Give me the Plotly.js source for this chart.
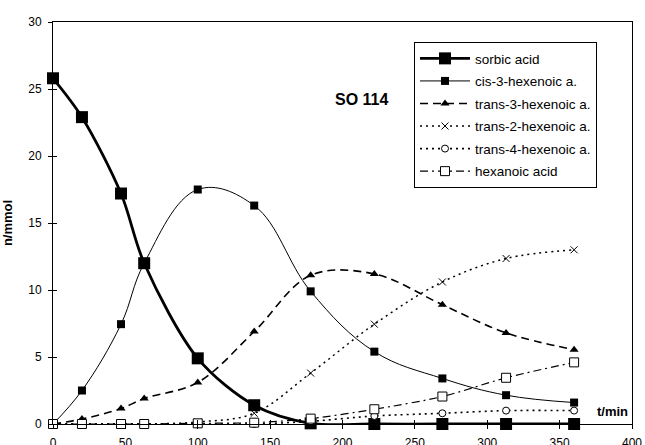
<!DOCTYPE html>
<html><head><meta charset="utf-8">
<script src="https://cdn.plot.ly/plotly-3.0.1.min.js"></script>
<style>html,body{margin:0;padding:0;background:#fff}#c{width:645px;height:445px}</style>
</head><body><div id="c"></div>
<script>
const time = [0, 20, 47, 63, 100, 139, 178, 222, 269, 313, 360];
const sorbic = [25.8, 22.9, 17.2, 12.0, 4.9, 1.4, 0.05, 0, 0, 0, 0];
const cis3 = [0, 2.5, 7.45, 12.0, 17.5, 16.3, 9.9, 5.4, 3.4, 2.15, 1.6];
const trans3 = [0, 0.37, 1.15, 1.9, 3.1, 6.9, 11.1, 11.2, 8.9, 6.8, 5.55];
const trans2 = [0, 0, 0, 0, 0.15, 0.8, 3.8, 7.45, 10.6, 12.35, 13.0];
const trans4 = [0, 0, 0, 0, 0, 0, 0.2, 0.6, 0.8, 1.0, 1.0];
const hexanoic = [0, 0, 0, 0, 0.05, 0.1, 0.4, 1.1, 2.05, 3.45, 4.6];
const names = ["sorbic acid", "cis-3-hexenoic a.", "trans-3-hexenoic a.", "trans-2-hexenoic a.", "trans-4-hexenoic a.", "hexanoic acid"];
const xTicks = [0, 50, 100, 150, 200, 250, 300, 350, 400];
const yTicks = [0, 5, 10, 15, 20, 25, 30];

const sp = 'spline';
const FONT = 'Liberation Sans, Arial, sans-serif';
const traces = [
  {y: sorbic, name: names[0], line: {color: '#000', width: 2.8, shape: sp, smoothing: 0.9}, marker: {symbol: 'square', size: 12, color: '#000'}},
  {y: cis3, name: names[1], line: {color: '#000', width: 1, shape: sp, smoothing: 1.1}, marker: {symbol: 'square', size: 8, color: '#000'}},
  {y: trans3, name: names[2], line: {color: '#000', width: 1.6, dash: '8px,5px', shape: sp, smoothing: 1}, marker: {symbol: 'triangle-up', size: 8, color: '#000'}},
  {y: trans2, name: names[3], line: {color: '#000', width: 1.5, dash: '2px,4px', shape: sp, smoothing: 1}, marker: {symbol: 'x-thin-open', size: 7, color: '#000', line: {width: 1, color: '#000'}}},
  {y: trans4, name: names[4], line: {color: '#000', width: 1.6, dash: '2px,4px', shape: sp, smoothing: 0.8}, marker: {symbol: 'circle', size: 7, color: '#fff', line: {width: 1, color: '#000'}}},
  {y: hexanoic, name: names[5], line: {color: '#000', width: 1.2, dash: '8px,4px,2px,4px', shape: sp, smoothing: 0.8}, marker: {symbol: 'square', size: 9, color: '#fff', line: {width: 1, color: '#000'}}}
].map((t, i) => Object.assign({x: time, type: 'scatter', mode: 'lines+markers', legendgroup: 'g' + i, cliponaxis: false}, t));

const axFont = {family: FONT, size: 12, color: '#000'};
const layout = {
  width: 645, height: 445,
  margin: {l: 53, r: 13, t: 22, b: 21},
  paper_bgcolor: '#fff', plot_bgcolor: '#fff',
  showlegend: true,
  legend: {x: 0.6235, y: 0.95, xanchor: 'left', yanchor: 'top', bgcolor: '#fff', bordercolor: '#000', borderwidth: 1,
    font: {family: FONT, size: 13.5, color: '#000'}, tracegroupgap: 2, itemwidth: 50},
  xaxis: {range: [0, 400], tickvals: xTicks, ticktext: xTicks.map(String), showgrid: false, zeroline: false,
    showline: true, linecolor: '#000', linewidth: 1, mirror: true, ticks: 'outside', ticklen: 4, tickcolor: '#000',
    tickfont: axFont, ticklabelstandoff: 4},
  yaxis: {range: [0, 30], tickvals: yTicks, ticktext: yTicks.map(String), showgrid: false, zeroline: false,
    showline: true, linecolor: '#000', linewidth: 1, mirror: true, ticks: 'outside', ticklen: 4, tickcolor: '#000',
    tickfont: axFont, ticklabelstandoff: 4,
    title: {text: '<b>n/mmol</b>', font: {family: FONT, size: 13, color: '#000'}, standoff: 12}},
  xaxis2: {range: [0, 400], overlaying: 'x', tickvals: xTicks, showticklabels: false, ticks: 'inside', ticklen: 4, tickcolor: '#000', showgrid: false, zeroline: false, showline: false},
  yaxis2: {range: [0, 30], overlaying: 'y', tickvals: yTicks, showticklabels: false, ticks: 'inside', ticklen: 4, tickcolor: '#000', showgrid: false, zeroline: false, showline: false},
  annotations: [
    {x: 213, y: 24.2, xref: 'x', yref: 'y', text: '<b>SO 114</b>', showarrow: false, font: {family: FONT, size: 16, color: '#000'}},
    {x: 1, y: 0.97, xref: 'paper', yref: 'y', xanchor: 'right', yanchor: 'middle', xshift: -2, text: '<b>t/min</b>', showarrow: false, font: {family: FONT, size: 13, color: '#000'}}
  ]
};
const dummy = {x: [null], y: [null], xaxis: 'x2', yaxis: 'y2', showlegend: false, type: 'scatter', hoverinfo: 'skip'};
Plotly.newPlot('c', traces.concat([dummy]), layout, {displayModeBar: false, staticPlot: true});
</script></body></html>
